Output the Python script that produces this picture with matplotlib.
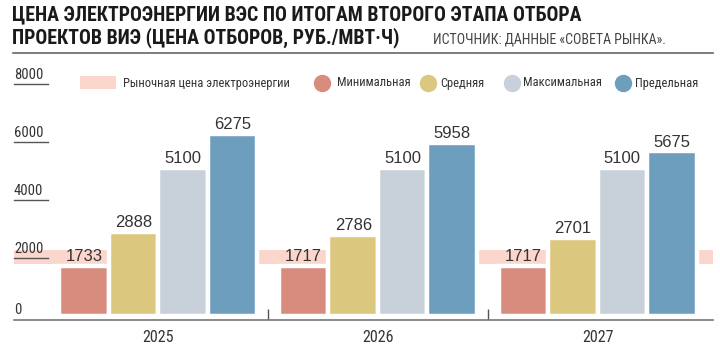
import matplotlib
matplotlib.use("Agg")
import matplotlib.pyplot as plt
import numpy as np
from matplotlib.lines import Line2D
from matplotlib.patches import Rectangle
import matplotlib.transforms as mtrans

# condensed face like the original, with plain fallbacks
NARROW = ['Roboto Condensed', 'Liberation Sans', 'DejaVu Sans']
PLAIN = ['Liberation Sans', 'DejaVu Sans']
plt.rcParams['font.family'] = NARROW

# data
years = ['2025', '2026', '2027']
min_price = [1733, 1717, 1717]
avg_price = [2888, 2786, 2701]
max_price = [5100, 5100, 5100]
limit_price = [6275, 5958, 5675]
market_low, market_high = 1790, 2270
y_ticks = [0, 2000, 4000, 6000, 8000]

series_names = ['Минимальная', 'Средняя', 'Максимальная', 'Предельная']
series_colors = ['#D88C7E', '#DBC77E', '#C8D1D9', '#6D9EBE']
band_color = '#FAD6CC'
txt = '#333333'

W, H = 720, 345
fig = plt.figure(figsize=(7.2, 3.45), dpi=100)

def fx(px):
    return px / W

def fy(py):
    return 1 - py / H

# header
fig.text(fx(12), fy(20), 'ЦЕНА ЭЛЕКТРОЭНЕРГИИ ВЭС ПО ИТОГАМ ВТОРОГО ЭТАПА ОТБОРА',
         fontsize=14.3, fontweight='bold', color='#1a1a1a', va='baseline')
fig.text(fx(12), fy(43), 'ПРОЕКТОВ ВИЭ (ЦЕНА ОТБОРОВ, РУБ./МВТ·Ч)',
         fontsize=14.3, fontweight='bold', color='#1a1a1a', va='baseline')
fig.text(fx(433), fy(43), 'ИСТОЧНИК: ДАННЫЕ «СОВЕТА РЫНКА».',
         fontsize=10, color='#444444', va='baseline')
fig.add_artist(Line2D([fx(13), fx(713)], [fy(53), fy(53)], color='#666666', lw=1.2))

# legend (drawn by hand to keep the spacing)
fig.add_artist(Rectangle((fx(80), fy(89)), fx(36), 13 / H, color=band_color, lw=0))
fig.text(fx(123), fy(83), 'Рыночная цена электроэнергии', fontsize=9, color=txt, va='center')
for cx, tx, name, col in zip([322, 428, 512, 623], [337, 440, 523, 635], series_names, series_colors):
    fig.add_artist(Line2D([fx(cx)], [fy(83)], marker='o', ms=11.5, color=col, lw=0))
    fig.text(fx(tx), fy(83), name, fontsize=9, color=txt, va='center')

# plot area
ax = fig.add_axes([fx(14), fy(320), fx(713) - fx(14), fy(84) - fy(320)])
ax.set_xlim(-0.658, 2.526)
ax.set_ylim(-140, 8000)

ax.axhspan(market_low, market_high, color=band_color, lw=0, zorder=1)

x = np.arange(len(years))
pitch = 0.2255
for i, (vals, col) in enumerate(zip([min_price, avg_price, max_price, limit_price], series_colors)):
    xs = x + (i - 1.5) * pitch
    bars = ax.bar(xs, vals, width=pitch, color=col, edgecolor='white', linewidth=3.2, zorder=2)
    for b, v in zip(bars, vals):
        ax.annotate(str(v), (b.get_x() + b.get_width() / 2, v), xytext=(0, 3.5),
                    textcoords='offset points', ha='center', va='baseline',
                    fontsize=12, family=PLAIN, color=txt, zorder=3)

# y labels with short underlines
blend = mtrans.blended_transform_factory(ax.transAxes, ax.transData)
for t in y_ticks:
    ax.annotate(str(t), (0, t), xycoords=blend, xytext=(0, 3.5 if t else 1.5),
                textcoords='offset points', ha='left', va='baseline',
                fontsize=10.5, color=txt)
    if t:
        ax.plot([0, 0.049], [t, t], transform=blend, color='#555555', lw=1, clip_on=False)

# group separators
ax.vlines(x[:-1] + 0.5, -140, 240, color='#555555', lw=1)

for s in ['top', 'right', 'left']:
    ax.spines[s].set_visible(False)
ax.spines['bottom'].set_color('#777777')
ax.spines['bottom'].set_linewidth(1.2)
ax.set_yticks([])
ax.set_xticks(x)
ax.set_xticklabels(years, fontsize=11.5, color=txt)
ax.tick_params(axis='x', length=0, pad=7)

fig.savefig('out.png', dpi=100)
